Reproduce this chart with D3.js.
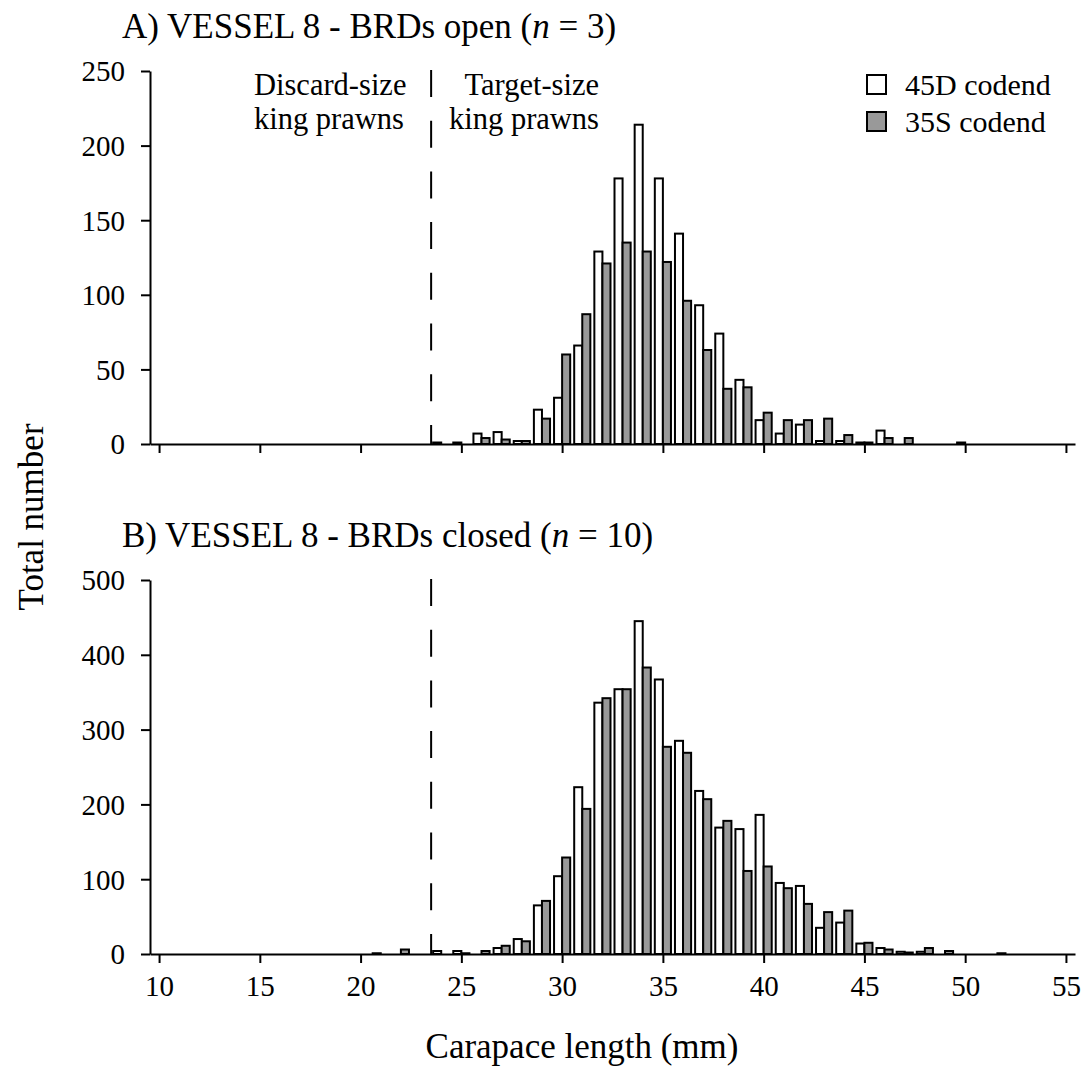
<!DOCTYPE html>
<html>
<head>
<meta charset="utf-8">
<script src="https://cdn.jsdelivr.net/npm/d3@7"></script>
<style>
  body { margin: 0; background: #fff; }
  svg text { font-family: "Liberation Serif", "Times New Roman", serif; fill: #000; }
</style>
</head>
<body>
<div id="chart"></div>
<script>
// carapace length classes (mm)
const lengths = [21, 22, 23, 24, 25, 26, 27, 28, 29, 30, 31, 32, 33, 34, 35, 36,
	37, 38, 39, 40, 41, 42, 43, 44, 45, 46, 47, 48, 49, 50, 51, 52];

// A) BRDs open
const open45D = [0, 0, 0, 1, 1, 7, 8, 2, 23, 31, 66, 129, 178, 214, 178, 141,
	93, 74, 43, 16, 7, 13, 2, 2, 1, 9, 0, 0, 0, 1, 0, 0];
const open35S = [0, 0, 0, 0, 0, 4, 3, 2, 17, 60, 87, 121, 135, 129, 122, 96,
	63, 37, 38, 21, 16, 16, 17, 6, 1, 4, 4, 0, 0, 0, 0, 0];

// B) BRDs closed
const closed45D = [1, 0, 0, 4, 4, 0, 8, 20, 65, 104, 223, 336, 354, 445, 367, 285,
	218, 169, 167, 186, 95, 91, 35, 42, 14, 8, 3, 3, 0, 0, 0, 1];
const closed35S = [0, 6, 0, 0, 1, 4, 11, 17, 71, 129, 194, 342, 354, 383, 277, 269,
	207, 178, 111, 117, 88, 67, 56, 58, 15, 6, 2, 8, 4, 0, 0, 0];

const xTicks = [10, 15, 20, 25, 30, 35, 40, 45, 50, 55];
const yTicksA = [0, 50, 100, 150, 200, 250];
const yTicksB = [0, 100, 200, 300, 400, 500];
const sizeLimit = 23.5;

const seriesNames = ["45D codend", "35S codend"];
const seriesFill = ["#ffffff", "#999999"];

const width = 1083, height = 1068;

const svg = d3.select("#chart").append("svg")
	.attr("width", width)
	.attr("height", height);

const x = d3.scaleLinear().domain([9.55, 55.45]).range([150, 1075]);

const panels = [
	{ title: "A) VESSEL 8 - BRDs open (", n: "3", s45: open45D, s35: open35S, ticks: yTicksA, top: 71, bottom: 444, max: 250, labels: false },
	{ title: "B) VESSEL 8 - BRDs closed (", n: "10", s45: closed45D, s35: closed35S, ticks: yTicksB, top: 580, bottom: 954, max: 500, labels: true }
];

panels.forEach((p, i) => {
	const y = d3.scaleLinear().domain([0, p.max]).range([p.bottom, p.top]);
	const g = svg.append("g");

	// title
	const t = g.append("text")
		.attr("x", 122)
		.attr("y", p.top - 33)
		.style("font-size", "35px");
	t.append("tspan").text(p.title);
	t.append("tspan").style("font-style", "italic").text("n");
	t.append("tspan").text(" = " + p.n + ")");

	// bars: 45D on left half of each class, 35S on right half
	const barW = x(10.45) - x(10) - 1;
	const rows = lengths.map((l, k) => ({ l: l, a: p.s45[k], b: p.s35[k] }));

	g.selectAll("rect.d45")
		.data(rows.filter(d => d.a > 0))
		.enter().append("rect")
		.attr("class", "d45")
		.attr("x", d => x(d.l) - barW)
		.attr("y", d => y(d.a))
		.attr("width", barW)
		.attr("height", d => y(0) - y(d.a))
		.style("fill", seriesFill[0])
		.style("stroke", "#000")
		.style("stroke-width", "2px");

	g.selectAll("rect.s35")
		.data(rows.filter(d => d.b > 0))
		.enter().append("rect")
		.attr("class", "s35")
		.attr("x", d => x(d.l))
		.attr("y", d => y(d.b))
		.attr("width", barW)
		.attr("height", d => y(0) - y(d.b))
		.style("fill", seriesFill[1])
		.style("stroke", "#000")
		.style("stroke-width", "2px");

	// size limit
	g.append("line")
		.attr("x1", x(sizeLimit))
		.attr("x2", x(sizeLimit))
		.attr("y1", p.top - 1)
		.attr("y2", p.bottom)
		.style("stroke", "#000")
		.style("stroke-width", "2px")
		.style("stroke-dasharray", "27,23.7");

	// axes
	const yAxis = d3.axisLeft(y).tickValues(p.ticks).tickSize(9).tickSizeOuter(0).tickPadding(16);
	const ya = g.append("g")
		.attr("transform", "translate(" + 150 + ",0)")
		.call(yAxis);

	const xAxis = d3.axisBottom(x).tickValues(xTicks).tickSize(9).tickSizeOuter(0).tickPadding(12);
	if (!p.labels) xAxis.tickFormat("");
	const xa = g.append("g")
		.attr("transform", "translate(0," + p.bottom + ")")
		.call(xAxis);

	[ya, xa].forEach(a => {
		a.selectAll("path.domain").style("stroke", "#000").style("stroke-width", "2px");
		a.selectAll(".tick line").style("stroke", "#000").style("stroke-width", "2px");
		a.selectAll(".tick text")
			.style("font-family", "'Liberation Serif', 'Times New Roman', serif")
			.style("font-size", "29px")
			.style("fill", "#000");
	});
	ya.selectAll(".tick text").attr("dy", "0.34em");
	xa.selectAll(".tick text").attr("dy", "0.71em");
});

// annotations, panel A
const notes = [
	{ x: 254, anchor: "start", lines: ["Discard-size", "king prawns"] },
	{ x: 599, anchor: "end", lines: ["Target-size", "king prawns"] }
];
notes.forEach(n => {
	n.lines.forEach((s, k) => {
		svg.append("text")
			.attr("x", n.x)
			.attr("y", 95 + k * 34)
			.attr("text-anchor", n.anchor)
			.style("font-size", "30.5px")
			.text(s);
	});
});

// legend
const legend = svg.append("g");
seriesNames.forEach((s, k) => {
	legend.append("rect")
		.attr("x", 867)
		.attr("y", 75 + k * 37)
		.attr("width", 19)
		.attr("height", 19)
		.style("fill", seriesFill[k])
		.style("stroke", "#000")
		.style("stroke-width", "2px");
	legend.append("text")
		.attr("x", 905)
		.attr("y", 95 + k * 37)
		.style("font-size", "30px")
		.text(s);
});

// axis titles
svg.append("text")
	.attr("x", 582)
	.attr("y", 1058)
	.attr("text-anchor", "middle")
	.style("font-size", "35px")
	.text("Carapace length (mm)");

svg.append("text")
	.attr("transform", "translate(" + 43 + "," + 517 + ") rotate(-90)")
	.attr("text-anchor", "middle")
	.style("font-size", "35px")
	.text("Total number");
</script>
</body>
</html>
